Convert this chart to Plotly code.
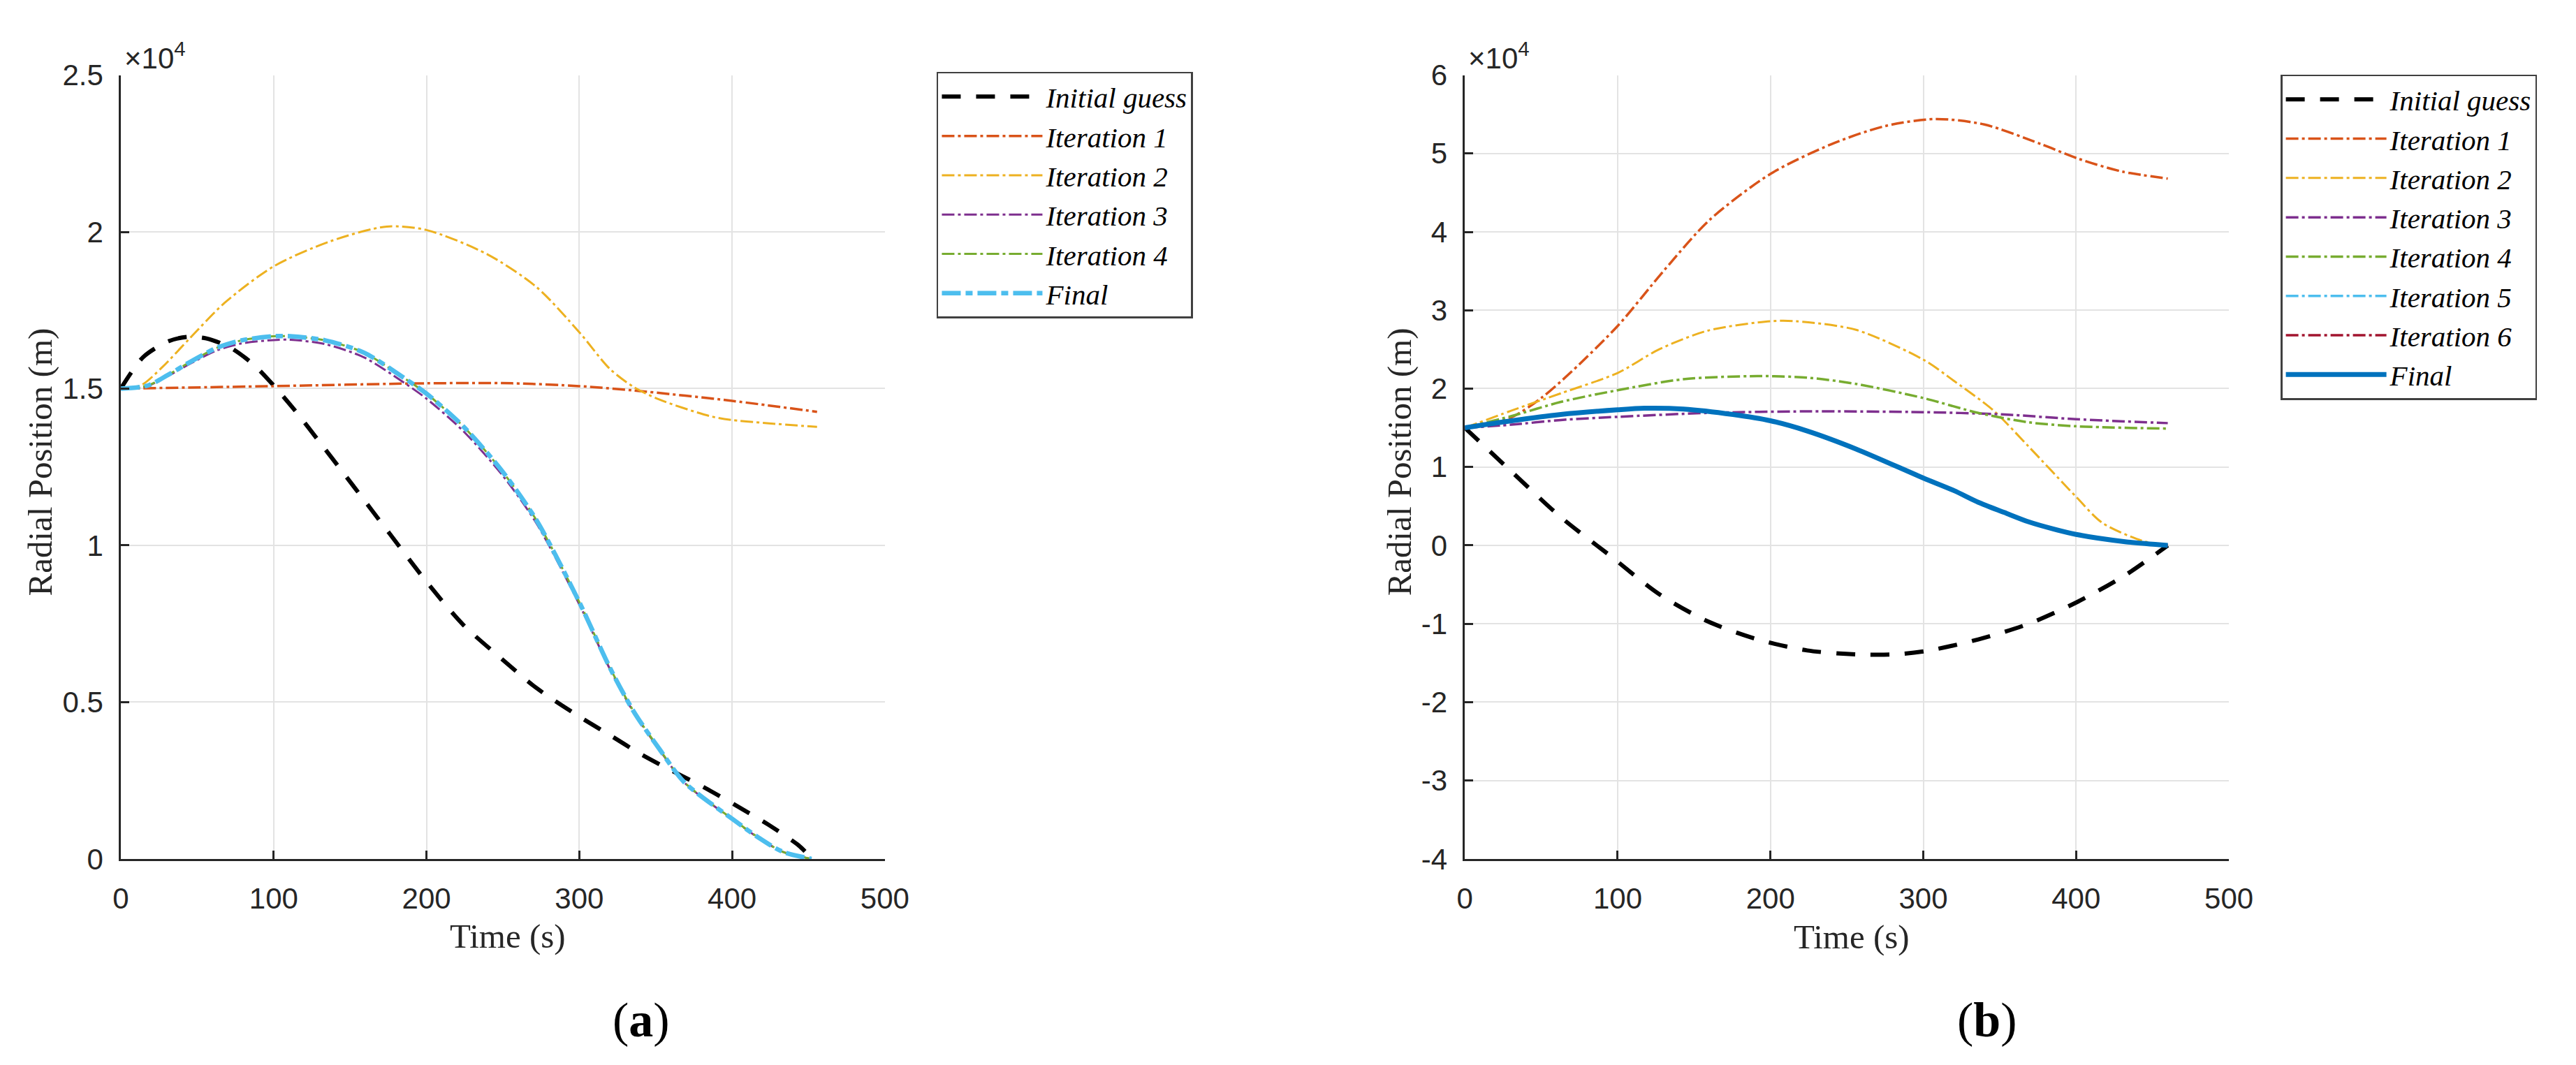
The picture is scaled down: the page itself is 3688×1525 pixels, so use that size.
import plotly.graph_objects as go

# ---- (a) radial position vs time, values in metres ----
a_init_t = [0, 14.5, 30.6, 43.5, 56, 72, 87, 100, 114, 130, 153, 175.5, 200, 224, 249.5, 272, 300, 320, 340, 361, 381, 401.6, 423.5, 443.6, 447.7]
a_init_r = [15000, 16000, 16500, 16650, 16600, 16300, 15760, 15100, 14300, 13300, 11840, 10400, 8840, 7470, 6370, 5450, 4540, 3950, 3350, 2800, 2300, 1730, 1100, 430, 240]

a_it1_t = [0, 100, 200, 256, 300, 336, 400, 455.6]
a_it1_r = [15000, 15080, 15170, 15170, 15080, 14940, 14610, 14260]

a_it2_t = [0, 13, 26.8, 45, 68, 100, 137, 174, 200, 240, 272, 300, 320, 336, 352.5, 385, 400, 455.6]
a_it2_r = [15000, 15100, 15670, 16600, 17740, 18900, 19700, 20170, 20060, 19280, 18240, 16800, 15630, 15040, 14650, 14130, 14000, 13780]

a_fin_t = [0, 17.7, 30.6, 46.7, 62.8, 79, 100, 111, 133.6, 159, 185, 200, 224, 249.5, 272, 300, 320, 336, 352.5, 368.6, 400, 417, 433, 452]
a_fin_r = [15000, 15100, 15430, 15890, 16300, 16540, 16670, 16670, 16540, 16150, 15350, 14840, 13800, 12370, 10800, 8190, 6100, 4670, 3500, 2450, 1280, 690, 230, 0]

a_it3_r = [15000, 15090, 15400, 15830, 16220, 16440, 16550, 16560, 16420, 16000, 15200, 14680, 13650, 12250, 10700, 8120, 6060, 4640, 3480, 2440, 1270, 680, 230, 0]
a_it4_r = [15000, 15100, 15430, 15890, 16300, 16540, 16670, 16670, 16540, 16150, 15350, 14840, 13800, 12370, 10800, 8190, 6100, 4670, 3500, 2450, 1280, 690, 230, 0]

# ---- (b) ----
b_init_t = [0, 30.6, 62.8, 95, 127, 159, 191.6, 224, 256, 282, 304, 336, 369, 401, 433, 460]
b_init_r = [15000, 9400, 3600, -1300, -6200, -9700, -12000, -13400, -13900, -13900, -13400, -12000, -10000, -7200, -3700, 0]

b_it1_t = [0, 30, 50, 70, 100, 130, 160, 200, 240, 275, 308, 340, 377, 402, 430, 460]
b_it1_r = [15000, 16300, 18800, 22200, 28000, 35000, 41500, 47400, 51200, 53500, 54400, 53700, 51200, 49300, 47700, 46800]

b_it2_t = [0, 30.6, 62.8, 100, 127, 159, 200, 217, 256, 300, 320, 346, 369, 400, 417, 443, 460]
b_it2_r = [15000, 17200, 19400, 22000, 25000, 27400, 28600, 28600, 27500, 23700, 21000, 17200, 12600, 6200, 2900, 600, 0]

b_it3_t = [0, 30.6, 62.8, 100, 159, 224, 300, 353, 400, 460]
b_it3_r = [15000, 15400, 16000, 16400, 16900, 17100, 17000, 16700, 16100, 15600]

b_it4_t = [0, 30.6, 62.8, 100, 143, 191.6, 224, 256, 300, 336, 369, 400, 460]
b_it4_r = [15000, 16500, 18300, 19800, 21200, 21600, 21400, 20600, 18800, 16900, 15700, 15200, 14900]

b_fin_t = [0, 30.6, 62.8, 100, 117.5, 143, 175.5, 200, 224, 256, 300, 320, 336, 353, 369, 385, 400, 433, 460]
b_fin_r = [15000, 15900, 16700, 17300, 17500, 17400, 16700, 15900, 14600, 12300, 8600, 7000, 5500, 4200, 3000, 2100, 1400, 450, 0]
# iterations 5 and 6 sit under the final curve
b_it5_r = [15000, 15900, 16700, 17300, 17500, 17400, 16700, 15900, 14600, 12300, 8600, 7000, 5500, 4200, 3000, 2100, 1400, 450, 0]
b_it6_r = [15000, 15900, 16700, 17300, 17500, 17400, 16700, 15900, 14600, 12300, 8600, 7000, 5500, 4200, 3000, 2100, 1400, 450, 0]

x_ticks = [0, 100, 200, 300, 400, 500]
a_yticks = [0, 5000, 10000, 15000, 20000, 25000]
a_ylabels = ["0", "0.5", "1", "1.5", "2", "2.5"]
b_yticks = [-40000, -30000, -20000, -10000, 0, 10000, 20000, 30000, 40000, 50000, 60000]
b_ylabels = ["-4", "-3", "-2", "-1", "0", "1", "2", "3", "4", "5", "6"]

W, H = 3688, 1525

# matlab colours
C_IT1 = "#D95319"
C_IT2 = "#EDB120"
C_IT3 = "#7E2F8E"
C_IT4 = "#77AC30"
C_IT5 = "#4DBEEE"
C_IT6 = "#A2142F"
C_FIN_B = "#0072BD"

DASH_INIT = "27px,22px"
DASH_IT = "18px,5px,4px,5px"
DASH_FIN = "27px,7px,10px,7px"


def line(t, r, name, color, width, dash, xa, ya, leg):
    return go.Scatter(
        x=t, y=r, name=name, mode="lines",
        line=dict(color=color, width=width, dash=dash, shape="spline", smoothing=0.8),
        xaxis=xa, yaxis=ya, legend=leg,
    )


fig = go.Figure()

# panel a
fig.add_trace(line(a_init_t, a_init_r, "Initial guess", "black", 6, DASH_INIT, "x", "y", "legend"))
fig.add_trace(line(a_it1_t, a_it1_r, "Iteration 1", C_IT1, 3.5, DASH_IT, "x", "y", "legend"))
fig.add_trace(line(a_it2_t, a_it2_r, "Iteration 2", C_IT2, 3, DASH_IT, "x", "y", "legend"))
fig.add_trace(line(a_fin_t, a_it3_r, "Iteration 3", C_IT3, 3, DASH_IT, "x", "y", "legend"))
fig.add_trace(line(a_fin_t, a_it4_r, "Iteration 4", C_IT4, 3, DASH_IT, "x", "y", "legend"))
fig.add_trace(line(a_fin_t, a_fin_r, "Final", C_IT5, 6.5, DASH_FIN, "x", "y", "legend"))

# panel b
fig.add_trace(line(b_init_t, b_init_r, "Initial guess", "black", 6, DASH_INIT, "x2", "y2", "legend2"))
fig.add_trace(line(b_it1_t, b_it1_r, "Iteration 1", C_IT1, 3.5, DASH_IT, "x2", "y2", "legend2"))
fig.add_trace(line(b_it2_t, b_it2_r, "Iteration 2", C_IT2, 3, DASH_IT, "x2", "y2", "legend2"))
fig.add_trace(line(b_it3_t, b_it3_r, "Iteration 3", C_IT3, 3.5, DASH_IT, "x2", "y2", "legend2"))
fig.add_trace(line(b_it4_t, b_it4_r, "Iteration 4", C_IT4, 3.5, DASH_IT, "x2", "y2", "legend2"))
fig.add_trace(line(b_fin_t, b_it5_r, "Iteration 5", C_IT5, 3.5, DASH_IT, "x2", "y2", "legend2"))
fig.add_trace(line(b_fin_t, b_it6_r, "Iteration 6", C_IT6, 3.5, DASH_IT, "x2", "y2", "legend2"))
fig.add_trace(line(b_fin_t, b_fin_r, "Final", C_FIN_B, 7, "solid", "x2", "y2", "legend2"))

axis_common = dict(
    showline=True, linecolor="#262626", linewidth=2.5,
    ticks="inside", ticklen=12, tickwidth=2.5, tickcolor="#262626",
    showgrid=True, gridcolor="#E3E3E3", gridwidth=2,
    zeroline=False, mirror=False,
    tickfont=dict(family="Liberation Sans", size=42, color="#262626"),
)

legend_common = dict(
    xanchor="left", yanchor="top",
    bgcolor="white", bordercolor="#404040", borderwidth=2.5,
    font=dict(family="Liberation Serif", size=41, color="black", style="italic"),
    itemwidth=144, tracegroupgap=0,
)

y_top = 1 - 79 / H
y_bot = 1 - 1237 / H

fig.update_layout(
    width=W, height=H,
    margin=dict(l=0, r=0, t=0, b=0),
    paper_bgcolor="white", plot_bgcolor="white",
    xaxis=dict(axis_common, domain=[155 / W, 1263 / W], range=[0, 500], tickvals=x_ticks,
               anchor="y", ticklabelstandoff=18),
    yaxis=dict(axis_common, domain=[y_bot, y_top], range=[0, 25000], tickvals=a_yticks,
               ticktext=a_ylabels, anchor="x", ticklabelstandoff=14),
    xaxis2=dict(axis_common, domain=[2104 / W, 3212 / W], range=[0, 500], tickvals=x_ticks,
                anchor="y2", ticklabelstandoff=18),
    yaxis2=dict(axis_common, domain=[y_bot, y_top], range=[-40000, 60000], tickvals=b_yticks,
                ticktext=b_ylabels, anchor="x2", ticklabelstandoff=14),
    legend=dict(legend_common, x=1338 / W, y=1 - 74 / H),
    legend2=dict(legend_common, x=3287 / W, y=1 - 78 / H),
    showlegend=True,
)

serif = dict(family="Liberation Serif", size=49, color="#262626")
notes = [
    # axis titles
    dict(text="Time (s)", x=716 / W, y=1 - 1351 / H, font=serif, textangle=0),
    dict(text="Time (s)", x=2665 / W, y=1 - 1352 / H, font=serif, textangle=0),
    dict(text="Radial Position (m)", x=38 / W, y=1 - 651 / H, font=serif, textangle=-90),
    dict(text="Radial Position (m)", x=2010 / W, y=1 - 650 / H, font=serif, textangle=-90),
    # panel captions
    dict(text="(<b>a</b>)", x=910 / W, y=1 - 1475 / H,
         font=dict(family="Liberation Serif", size=70, color="black"), textangle=0),
    dict(text="(<b>b</b>)", x=2861 / W, y=1 - 1475 / H,
         font=dict(family="Liberation Serif", size=70, color="black"), textangle=0),
]
for n in notes:
    fig.add_annotation(xref="paper", yref="paper", showarrow=False,
                       xanchor="center", yanchor="middle", **n)

# x10^4 exponent labels
for x0 in [158, 2107]:
    fig.add_annotation(xref="paper", yref="paper", showarrow=False,
                       x=x0 / W, y=1 - 80 / H, xanchor="left", yanchor="bottom",
                       text="×10<sup>4</sup>",
                       font=dict(family="Liberation Sans", size=42, color="#262626"))

fig.write_html("out.html")
